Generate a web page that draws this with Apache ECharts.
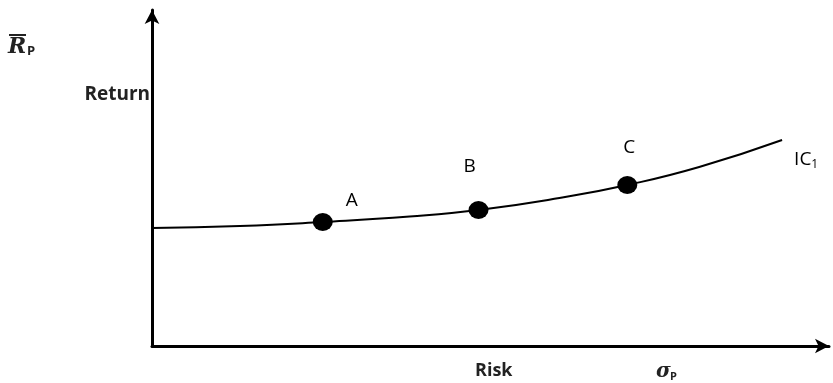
<!DOCTYPE html>
<html>
<head>
<meta charset="utf-8">
<style>
  html, body { margin: 0; padding: 0; background: #fff; }
  #myChart { width: 833px; height: 383px; }
</style>
<script src="https://cdn.jsdelivr.net/npm/echarts@6/dist/echarts.min.js"></script>
</head>
<body>
<div id="myChart"></div>
<script>
// indifference curve IC1 (risk, return)
var curveRisk = [0, 88, 171, 258, 327, 408, 476, 548, 631]
var curveReturn = [118, 120, 124, 129.5, 136, 148, 161, 179, 206]
// portfolios on the curve
var pointNames = ['A', 'B', 'C']
var pointRisk = [171, 327, 476]
var pointReturn = [124, 136, 161]
var labelOffsets = [[29, 2], [-9, -20], [2, -14]]

var font = '"Open Sans", "DejaVu Sans", sans-serif'
var myChart = echarts.init(document.getElementById('myChart'))

myChart.setOption({
  animation: false,
  grid: { left: 152, right: 4, top: 10, bottom: 37 },
  xAxis: {
    type: 'value',
    min: 0,
    max: 678,
    splitLine: { show: false },
    axisTick: { show: false },
    axisLabel: { show: false },
    axisLine: {
      lineStyle: { color: '#000', width: 3 },
      symbol: ['none', 'arrow'],
      symbolSize: [11, 14]
    }
  },
  yAxis: {
    type: 'value',
    min: 0,
    max: 336,
    splitLine: { show: false },
    axisTick: { show: false },
    axisLabel: { show: false },
    axisLine: {
      lineStyle: { color: '#000', width: 3 },
      symbol: ['none', 'arrow'],
      symbolSize: [11, 14]
    }
  },
  series: [
    {
      type: 'line',
      smooth: 0.5,
      symbol: 'none',
      data: curveRisk.map(function (x, i) { return [x, curveReturn[i]] }),
      lineStyle: { color: '#000', width: 2 },
      endLabel: {
        show: true,
        offset: [4, 20],
        formatter: '{a|IC}{b|1}',
        rich: {
          a: { fontFamily: font, fontSize: 19, fontWeight: 500, color: '#000' },
          b: { fontFamily: font, fontSize: 12, color: '#000', padding: [10, 0, 0, 0] }
        }
      }
    },
    {
      type: 'scatter',
      symbol: 'circle',
      symbolSize: [20, 18],
      itemStyle: { color: '#000', opacity: 1 },
      data: pointNames.map(function (n, i) {
        return {
          name: n,
          value: [pointRisk[i], pointReturn[i]],
          label: { offset: labelOffsets[i] }
        }
      }),
      label: {
        show: true,
        position: 'top',
        formatter: '{b}',
        fontFamily: font,
        fontSize: 19,
        fontWeight: 500,
        color: '#000'
      }
    }
  ],
  graphic: [
    { type: 'text', left: 8, top: 36, style: { text: 'R', font: 'italic bold 22px "DejaVu Serif", serif', fill: '#222' } },
    { type: 'line', shape: { x1: 9, y1: 35, x2: 26, y2: 35 }, style: { stroke: '#222', lineWidth: 2 } },
    { type: 'text', left: 27, top: 45, style: { text: 'P', font: 'bold 13px ' + font, fill: '#222' } },
    { type: 'text', right: 683, top: 85, style: { text: 'Return', font: 'bold 19px ' + font, fill: '#222' } },
    { type: 'text', left: 475, top: 362, style: { text: 'Risk', font: 'bold 18px ' + font, fill: '#222' } },
    { type: 'text', left: 656, top: 362, style: { text: 'σ', font: 'italic bold 20px "DejaVu Serif", serif', fill: '#222' } },
    { type: 'text', left: 670, top: 371, style: { text: 'P', font: 'bold 11px ' + font, fill: '#222' } }
  ]
})
</script>
</body>
</html>
